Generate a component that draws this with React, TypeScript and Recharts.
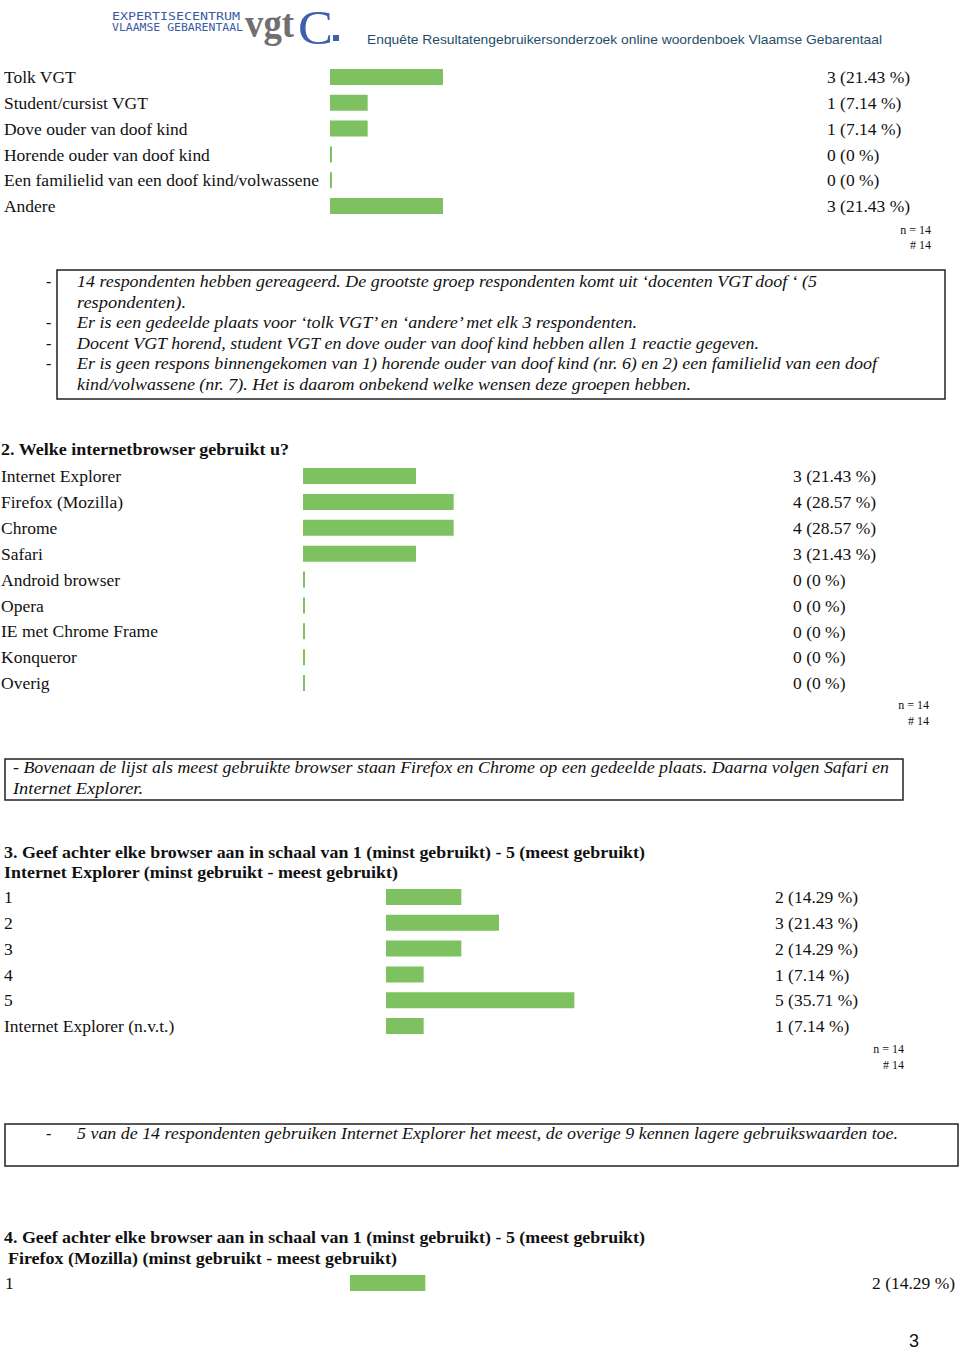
import { Bar, BarChart, LabelList, XAxis, YAxis } from "recharts"

const TOTAL = 14
const GREEN = "#7DC160"
const PX_PER_PCT = 5.273

const q1Labels = [
  "Tolk VGT",
  "Student/cursist VGT",
  "Dove ouder van doof kind",
  "Horende ouder van doof kind",
  "Een familielid van een doof kind/volwassene",
  "Andere",
]
const q1Counts = [3, 1, 1, 0, 0, 3]

const q2Labels = [
  "Internet Explorer",
  "Firefox (Mozilla)",
  "Chrome",
  "Safari",
  "Android browser",
  "Opera",
  "IE met Chrome Frame",
  "Konqueror",
  "Overig",
]
const q2Counts = [3, 4, 4, 3, 0, 0, 0, 0, 0]

const q3Labels = ["1", "2", "3", "4", "5", "Internet Explorer (n.v.t.)"]
const q3Counts = [2, 3, 2, 1, 5, 1]

const q4Labels = ["1"]
const q4Counts = [2]

const SERIF = "'Liberation Serif', 'Times New Roman', serif"
const SANS = "'Liberation Sans', Arial, sans-serif"

const fmt = (c: number) => `${c} (${Number(((c / TOTAL) * 100).toFixed(2))} %)`

type RowsProps = {
  labels: string[]
  counts: number[]
  top: number
  rowH: number
  labelX: number
  barX: number
  valueX: number
}

function Rows({ labels, counts, top, rowH, labelX, barX, valueX }: RowsProps) {
  const data = labels.map((label, i) => ({ label, count: counts[i], pct: (counts[i] / TOTAL) * 100 }))
  const plotW = 100 * PX_PER_PCT
  return (
    <div style={{ position: "absolute", left: 0, top }}>
      <BarChart
        width={960}
        height={labels.length * rowH}
        data={data}
        layout="vertical"
        margin={{ top: 0, right: 960 - barX - plotW, bottom: 0, left: 0 }}
        style={{ overflow: "visible" }}
      >
        <XAxis type="number" domain={[0, 100]} hide />
        <YAxis
          type="category"
          dataKey="label"
          width={barX}
          axisLine={false}
          tickLine={false}
          interval={0}
          tick={(p: any) => (
            <text x={labelX} y={p.y} dy="0.36em" fontFamily={SERIF} fontSize={17.5} fill="#111">
              {p.payload.value}
            </text>
          )}
        />
        <Bar
          dataKey="pct"
          fill={GREEN}
          barSize={16}
          isAnimationActive={false}
          minPointSize={(v: number) => (v === 0 ? 2 : 0)}
        >
          <LabelList
            dataKey="count"
            content={(p: any) => (
              <text
                x={valueX}
                y={Number(p.y) + Number(p.height) / 2}
                dy="0.36em"
                fontFamily={SERIF}
                fontSize={17.5}
                fill="#111"
              >
                {fmt(Number(p.value))}
              </text>
            )}
          />
        </Bar>
      </BarChart>
    </div>
  )
}

function T(props: {
  x: number
  y: number
  w?: number
  size?: number
  bold?: boolean
  italic?: boolean
  family?: string
  fill?: string
  anchor?: "start" | "end"
  children: string
}) {
  const { x, y, w, size = 16, bold, italic, family = SERIF, fill = "#111", anchor = "start" } = props
  return (
    <text
      x={x}
      y={y}
      fontFamily={family}
      fontSize={size}
      fontWeight={bold ? "bold" : "normal"}
      fontStyle={italic ? "italic" : "normal"}
      fill={fill}
      textAnchor={anchor}
      textLength={w}
      lengthAdjust={w ? "spacingAndGlyphs" : undefined}
    >
      {props.children}
    </text>
  )
}

function Page() {
  return (
    <svg width={960} height={1350} style={{ position: "absolute", left: 0, top: 0 }}>
      {/* header logo */}
      <T x={112} y={20} w={128} size={11} family="'DejaVu Sans Mono', monospace" fill="#3B5BA5">EXPERTISECENTRUM</T>
      <T x={112} y={31} w={131} size={11} family="'DejaVu Sans Mono', monospace" fill="#3B5BA5">VLAAMSE GEBARENTAAL</T>
      <T x={245} y={37} w={49} size={40} bold fill="#707070">vgt</T>
      <T x={298} y={44} w={35} size={49} fill="#3F5FAE">C</T>
      <rect x={333} y={35} width={6} height={6} fill="#3F5FAE" />
      <T x={367} y={44} w={515} size={13} family={SANS} fill="#1F4E6A">
        Enquête Resultatengebruikersonderzoek online woordenboek Vlaamse Gebarentaal
      </T>

      {/* question 1 notes */}
      <T x={931} y={234} size={12} anchor="end">n = 14</T>
      <T x={931} y={249} size={12} anchor="end"># 14</T>
      <rect x={57} y={270} width={888} height={129} fill="none" stroke="#222" strokeWidth={1.5} />
      <T x={46} y={287} size={16}>-</T>
      <T x={77} y={287} w={740} size={16} italic>
        14 respondenten hebben gereageerd. De grootste groep respondenten komt uit ‘docenten VGT doof ‘ (5
      </T>
      <T x={77} y={308} w={109} size={16} italic>respondenten).</T>
      <T x={46} y={328} size={16}>-</T>
      <T x={77} y={328} w={560} size={16} italic>
        Er is een gedeelde plaats voor ‘tolk VGT’ en ‘andere’ met elk 3 respondenten.
      </T>
      <T x={46} y={349} size={16}>-</T>
      <T x={77} y={349} w={682} size={16} italic>
        Docent VGT horend, student VGT en dove ouder van doof kind hebben allen 1 reactie gegeven.
      </T>
      <T x={46} y={369} size={16}>-</T>
      <T x={77} y={369} w={800} size={16} italic>
        Er is geen respons binnengekomen van 1) horende ouder van doof kind (nr. 6) en 2) een familielid van een doof
      </T>
      <T x={77} y={390} w={614} size={16} italic>
        kind/volwassene (nr. 7). Het is daarom onbekend welke wensen deze groepen hebben.
      </T>

      {/* question 2 */}
      <T x={1} y={455} w={288} size={17} bold>2. Welke internetbrowser gebruikt u?</T>
      <T x={929} y={709} size={12} anchor="end">n = 14</T>
      <T x={929} y={725} size={12} anchor="end"># 14</T>
      <rect x={5} y={759} width={898} height={41} fill="none" stroke="#222" strokeWidth={1.5} />
      <T x={13} y={773} w={876} size={16} italic>
        - Bovenaan de lijst als meest gebruikte browser staan Firefox en Chrome op een gedeelde plaats. Daarna volgen Safari en
      </T>
      <T x={13} y={794} w={130} size={16} italic>Internet Explorer.</T>

      {/* question 3 */}
      <T x={4} y={858} w={641} size={17} bold>
        3. Geef achter elke browser aan in schaal van 1 (minst gebruikt) - 5 (meest gebruikt)
      </T>
      <T x={4} y={878} w={394} size={17} bold>Internet Explorer (minst gebruikt - meest gebruikt)</T>
      <T x={904} y={1053} size={12} anchor="end">n = 14</T>
      <T x={904} y={1069} size={12} anchor="end"># 14</T>
      <rect x={5} y={1124} width={953} height={42} fill="none" stroke="#222" strokeWidth={1.5} />
      <T x={46} y={1139} size={16}>-</T>
      <T x={77} y={1139} w={821} size={16} italic>
        5 van de 14 respondenten gebruiken Internet Explorer het meest, de overige 9 kennen lagere gebruikswaarden toe.
      </T>

      {/* question 4 */}
      <T x={4} y={1243} w={641} size={17} bold>
        4. Geef achter elke browser aan in schaal van 1 (minst gebruikt) - 5 (meest gebruikt)
      </T>
      <T x={8} y={1264} w={389} size={17} bold>Firefox (Mozilla) (minst gebruikt - meest gebruikt)</T>

      <T x={909} y={1347} size={18} family={SANS}>3</T>
    </svg>
  )
}

export default function App() {
  return (
    <>
      <style>{"body{margin:0}"}</style>
      <div style={{ position: "relative", width: 960, height: 1350, background: "#fff" }}>
        <Page />
        <Rows labels={q1Labels} counts={q1Counts} top={64} rowH={25.8} labelX={4} barX={330} valueX={827} />
        <Rows labels={q2Labels} counts={q2Counts} top={463} rowH={25.875} labelX={1} barX={303} valueX={793} />
        <Rows labels={q3Labels} counts={q3Counts} top={884} rowH={25.8} labelX={4} barX={386} valueX={775} />
        <Rows labels={q4Labels} counts={q4Counts} top={1270} rowH={26} labelX={5} barX={350} valueX={872} />
      </div>
    </>
  )
}
